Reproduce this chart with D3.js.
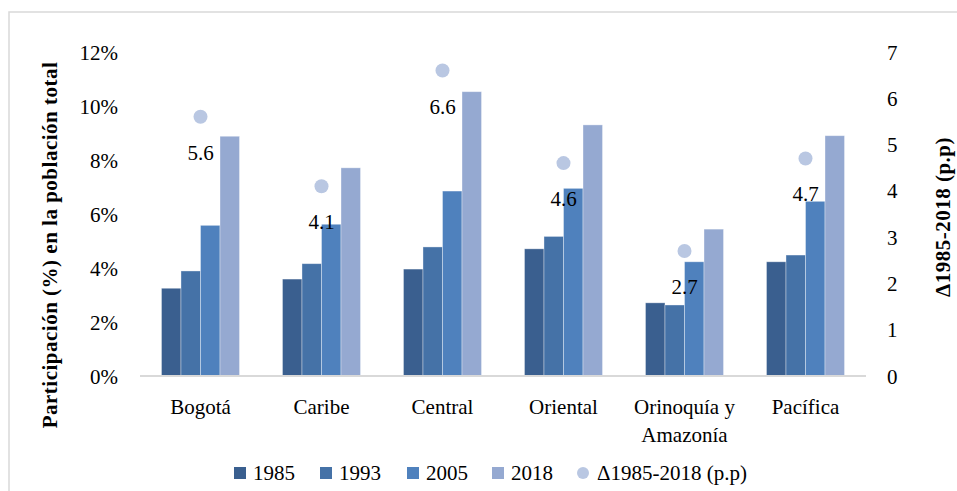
<!DOCTYPE html>
<html><head><meta charset="utf-8">
<script src="https://cdn.jsdelivr.net/npm/d3@7"></script>
<style>
body{margin:0;background:#fff;}
</style></head>
<body><svg id="c" width="957" height="491"></svg>
<script>
const categories = ["Bogotá","Caribe","Central","Oriental","Orinoquía y\nAmazonía","Pacífica"];
const seriesNames = ["1985","1993","2005","2018"];
const v1985 = [3.25, 3.59, 3.96, 4.71, 2.71, 4.23];
const v1993 = [3.89, 4.16, 4.78, 5.17, 2.63, 4.48];
const v2005 = [5.58, 5.62, 6.85, 6.95, 4.23, 6.47];
const v2018 = [8.88, 7.71, 10.53, 9.30, 5.44, 8.90];
const delta = [5.6, 4.1, 6.6, 4.6, 2.7, 4.7];
const deltaName = "Δ1985-2018 (p.p)";
const leftTicks = [0,2,4,6,8,10,12];
const rightTicks = [0,1,2,3,4,5,6,7];
const colors = ["#3a5f8f","#4572a7","#4f81bd","#95a9d1"];
const dotColor = "#b9c7e2";

const seriesVals = [v1985, v1993, v2005, v2018];
const svg = d3.select("#c");
const FF = "Liberation Serif";
const fs = "21px";
function styleText(sel){ return sel.style("font-family",FF).style("font-size",fs).style("fill","#000"); }

// frame
svg.append("rect").attr("x",9).attr("y",12).attr("width",960).attr("height",490)
  .attr("fill","none").attr("stroke","#d9d9d9").attr("stroke-width",1.5);

const x0 = d3.scaleBand().domain(categories).range([140,866]);
const gw = x0.bandwidth()*0.645;
const x1 = d3.scaleBand().domain(seriesNames).range([(x0.bandwidth()-gw)/2,(x0.bandwidth()+gw)/2]);
const yL = d3.scaleLinear().domain([0,12]).range([376,52]);
const yR = d3.scaleLinear().domain([0,7]).range([376,52]);

// bars
seriesNames.forEach((s,si)=>{
  svg.append("g").selectAll("rect").data(categories).join("rect")
    .attr("x",c=>x0(c)+x1(s))
    .attr("y",(c,i)=>yL(seriesVals[si][i]))
    .attr("width",x1.bandwidth())
    .attr("height",(c,i)=>yL(0)-yL(seriesVals[si][i]))
    .attr("fill",colors[si])
    .attr("stroke","rgba(255,255,255,0.45)").attr("stroke-width",0.8);
});

// baseline
svg.append("line").attr("x1",140).attr("x2",866).attr("y1",yL(0)).attr("y2",yL(0))
  .attr("stroke","#d9d9d9").attr("stroke-width",1.8);

// left axis
const axL = d3.axisLeft(yL).tickValues(leftTicks).tickFormat(d=>d+"%").tickSize(0).tickPadding(0);
const gL = svg.append("g").attr("transform","translate(118,0)").call(axL);
gL.attr("font-family",null).attr("font-size",null);
gL.select(".domain").remove();
styleText(gL.selectAll("text")).attr("dy","0.34em");

// right axis
const axR = d3.axisRight(yR).tickValues(rightTicks).tickFormat(d3.format("d")).tickSize(0).tickPadding(0);
const gR = svg.append("g").attr("transform","translate(887,0)").call(axR);
gR.attr("font-family",null).attr("font-size",null);
gR.select(".domain").remove();
styleText(gR.selectAll("text")).attr("dy","0.34em");

// x axis labels
const xl = svg.append("g");
categories.forEach(c=>{
  const lines = c.split("\n");
  const t = styleText(xl.append("text").attr("x",x0(c)+x0.bandwidth()/2).attr("y",414)
    .attr("text-anchor","middle"));
  lines.forEach((l,i)=>t.append("tspan").attr("x",x0(c)+x0.bandwidth()/2).attr("dy",i===0?0:28).text(l));
});

// dots + labels
svg.append("g").selectAll("circle").data(categories).join("circle")
  .attr("cx",c=>x0(c)+x0.bandwidth()/2).attr("cy",(c,i)=>yR(delta[i])).attr("r",7)
  .attr("fill",dotColor);
styleText(svg.append("g").selectAll("text").data(categories).join("text"))
  .attr("x",c=>x0(c)+x0.bandwidth()/2).attr("y",(c,i)=>yR(delta[i])+43)
  .attr("text-anchor","middle")
  .text((c,i)=>d3.format(".1f")(delta[i]));

// axis titles
styleText(svg.append("text")).attr("transform","translate(57,245) rotate(-90)")
  .attr("text-anchor","middle").style("font-weight","bold")
  .style("letter-spacing","0.5px")
  .text("Participación (%) en la población total");
styleText(svg.append("text")).attr("transform","translate(950,217) rotate(-90)")
  .attr("text-anchor","middle").style("font-weight","bold")
  .style("letter-spacing","0.5px")
  .text(deltaName);

// legend
const legX = [234,320,407,492];
const lg = svg.append("g");
seriesNames.forEach((s,i)=>{
  lg.append("rect").attr("x",legX[i]).attr("y",467).attr("width",12).attr("height",12).attr("fill",colors[i]);
  styleText(lg.append("text")).attr("x",legX[i]+19).attr("y",480).text(s);
});
lg.append("circle").attr("cx",583).attr("cy",473).attr("r",6).attr("fill",dotColor);
styleText(lg.append("text")).attr("x",597).attr("y",480).text(deltaName);
</script></body></html>
